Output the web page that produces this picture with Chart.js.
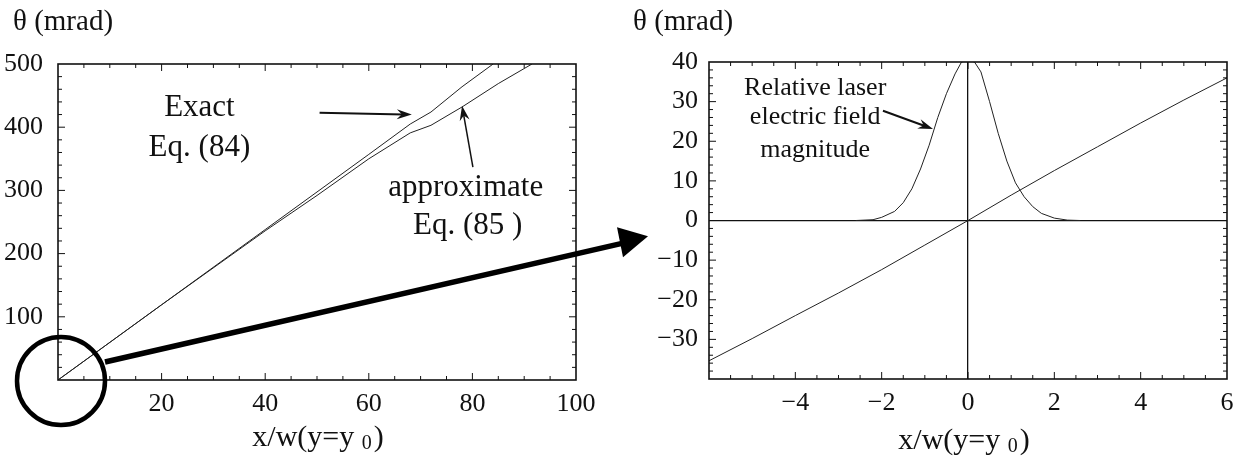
<!DOCTYPE html>
<html>
<head>
<meta charset="utf-8">
<script src="https://cdn.jsdelivr.net/npm/chart.js@4.4.1/dist/chart.umd.min.js"></script>
<style>
  html, body { margin: 0; padding: 0; background: #fff; }
  #wrap { position: relative; width: 1245px; height: 462px; }
  .box { position: absolute; top: 0; height: 462px; }
  #leftBox { left: 0; width: 620px; }
  #rightBox { left: 620px; width: 625px; }
  #overlay { position: absolute; left: 0; top: 0; pointer-events: none; }
</style>
</head>
<body>
<div id="wrap">
  <div class="box" id="leftBox"><canvas id="leftChart"></canvas></div>
  <div class="box" id="rightBox"><canvas id="rightChart"></canvas></div>
  <canvas id="overlay" width="1245" height="462"></canvas>
</div>
<script>
"use strict";

// deflection angle (mrad) against x/w, exact and approximate solution
const exactX = [0, 20, 40, 60, 68, 72, 78, 84];
const exactY = [0, 119, 238, 357, 405, 424, 464, 500];
const approxX = [0, 20, 40, 50, 60, 68, 72, 78, 85, 91.5];
const approxY = [0, 119, 236, 292, 350, 391, 403, 432, 469, 500];

// close-up around the origin
const thetaX = [-6, -5, -4, -3, -2, -1, 0, 1, 2, 3, 4, 5, 6];
const thetaY = [-35.4, -29.8, -24, -18.3, -12.4, -6.2, 0, 6.4, 12.6, 18.6, 24.6, 30.4, 36];
const fieldX = [-2.6, -2.2, -2.0, -1.7, -1.5, -1.3, -1.1, -0.9, -0.7, -0.5, -0.3, -0.15, 0,
                0.15, 0.3, 0.5, 0.7, 0.9, 1.1, 1.3, 1.5, 1.7, 2.0, 2.3, 2.6];
const fieldY = [0, 0.2, 0.8, 2.3, 4.5, 8, 13, 19, 26, 32, 37, 40, 40.5,
                40, 37.5, 30, 22, 15, 9.5, 6, 3.5, 1.8, 0.6, 0.1, 0];

// axis ranges: [min, max, label step, minor step]
const leftXAxis = [0, 100, 20, 5];
const leftYAxis = [0, 500, 100, 20];
const rightXAxis = [-6, 6, 2, 0.5];
const rightYAxis = [-40, 40, 10, 2];

const serif = "'Liberation Serif', 'Times New Roman', serif";
const ink = "#111";

function pts(xs, ys) {
    return xs.map((x, i) => ({ x: x, y: ys[i] }));
}

function fmt(v) {
    return v < 0 ? "\u2212" + Math.abs(v) : String(v);
}

function line(data) {
    return { data: data, showLine: true, borderColor: "#222", borderWidth: 1,
             pointRadius: 0, tension: 0, fill: false };
}

// frame round the plot with little inward ticks on every side
const frameTicks = {
    id: "frameTicks",
    afterDraw(chart, args, opts) {
        const ctx = chart.ctx, a = chart.chartArea;
        const xs = chart.scales.x, ys = chart.scales.y;
        ctx.save();
        ctx.strokeStyle = ink;
        ctx.lineWidth = 1;
        function marks(scale, range, horiz) {
            const n = Math.round((range[1] - range[0]) / range[3]);
            for (let i = 1; i < n; i++) {
                const v = range[0] + i * range[3];
                const major = Math.abs(v / range[2] - Math.round(v / range[2])) < 1e-6;
                const len = major ? 7 : 4;
                const p = scale.getPixelForValue(v);
                ctx.beginPath();
                if (horiz) {
                    ctx.moveTo(p, a.bottom); ctx.lineTo(p, a.bottom - len);
                    ctx.moveTo(p, a.top); ctx.lineTo(p, a.top + len);
                } else {
                    ctx.moveTo(a.left, p); ctx.lineTo(a.left + len, p);
                    ctx.moveTo(a.right, p); ctx.lineTo(a.right - len, p);
                }
                ctx.stroke();
            }
        }
        marks(xs, opts.xr, true);
        marks(ys, opts.yr, false);
        ctx.lineWidth = 1.6;
        ctx.strokeRect(a.left, a.top, a.right - a.left, a.bottom - a.top);
        ctx.restore();
    }
};

// titles, labels and the small pointer arrows
const notes = {
    id: "notes",
    afterDraw(chart, args, opts) {
        const ctx = chart.ctx, a = chart.chartArea;
        const xs = chart.scales.x, ys = chart.scales.y;
        ctx.save();
        ctx.fillStyle = ink;
        ctx.strokeStyle = ink;
        ctx.textBaseline = "middle";

        ctx.font = "29px " + serif;
        ctx.textAlign = "left";
        ctx.fillText("\u03B8 (mrad)", 13, 22);

        // x axis title with the subscript zero
        const main = "x/w(y=y ", sub = "0", tail = ")";
        ctx.font = "30px " + serif;
        const w1 = ctx.measureText(main).width, w3 = ctx.measureText(tail).width;
        ctx.font = "20px " + serif;
        const w2 = ctx.measureText(sub).width;
        let x0 = (a.left + a.right) / 2 - (w1 + w2 + w3) / 2 + opts.titleShift;
        const ty = opts.titleY;
        ctx.font = "30px " + serif;
        ctx.fillText(main, x0, ty);
        ctx.font = "20px " + serif;
        ctx.fillText(sub, x0 + w1, ty + 6);
        ctx.font = "30px " + serif;
        ctx.fillText(tail, x0 + w1 + w2 + 2, ty);

        ctx.textAlign = "center";
        ctx.font = opts.noteSize + "px " + serif;
        opts.texts.forEach(t => {
            ctx.fillText(t.text, xs.getPixelForValue(t.x), ys.getPixelForValue(t.y));
        });

        opts.arrows.forEach(ar => {
            const x1 = xs.getPixelForValue(ar.from[0]), y1 = ys.getPixelForValue(ar.from[1]);
            const x2 = xs.getPixelForValue(ar.to[0]), y2 = ys.getPixelForValue(ar.to[1]);
            const ang = Math.atan2(y2 - y1, x2 - x1);
            ctx.lineWidth = ar.width;
            ctx.beginPath();
            ctx.moveTo(x1, y1);
            ctx.lineTo(x2 - 8 * Math.cos(ang), y2 - 8 * Math.sin(ang));
            ctx.stroke();
            ctx.beginPath();
            ctx.moveTo(x2, y2);
            ctx.lineTo(x2 - 15 * Math.cos(ang) + 5 * Math.sin(ang), y2 - 15 * Math.sin(ang) - 5 * Math.cos(ang));
            ctx.lineTo(x2 - 10 * Math.cos(ang), y2 - 10 * Math.sin(ang));
            ctx.lineTo(x2 - 15 * Math.cos(ang) - 5 * Math.sin(ang), y2 - 15 * Math.sin(ang) + 5 * Math.cos(ang));
            ctx.closePath();
            ctx.fill();
        });
        ctx.restore();
    }
};

function axis(range, hideFirst, size, zeroLines) {
    return {
        type: "linear",
        min: range[0],
        max: range[1],
        afterFit: size,
        border: { display: false },
        grid: {
            drawTicks: false,
            drawOnChartArea: zeroLines,
            color: c => (zeroLines && c.tick && c.tick.value === 0) ? ink : "rgba(0,0,0,0)",
            lineWidth: zeroLines ? 1.3 : 0
        },
        ticks: {
            stepSize: range[2],
            color: ink,
            font: { family: serif, size: 26 },
            callback: (v, i) => (hideFirst && i === 0) ? "" : fmt(v)
        }
    };
}

function baseOptions() {
    return {
        responsive: true,
        maintainAspectRatio: false,
        animation: false,
        events: [],
        plugins: { legend: { display: false }, tooltip: { enabled: false } }
    };
}

const leftOpts = baseOptions();
leftOpts.layout = { padding: { left: 0, right: 44, top: 64, bottom: 0 } };
leftOpts.scales = {
    x: axis(leftXAxis, true, s => { s.height = 82; }, false),
    y: axis(leftYAxis, true, s => { s.width = 58; }, false)
};
leftOpts.scales.x.ticks.padding = 9;
leftOpts.scales.y.ticks.padding = 15;
leftOpts.plugins.frameTicks = { xr: leftXAxis, yr: leftYAxis };
leftOpts.plugins.notes = {
    titleY: 438,
    titleShift: 0,
    noteSize: 31,
    texts: [
        { text: "Exact", x: 27.3, y: 430 },
        { text: "Eq. (84)", x: 27.3, y: 368 },
        { text: "approximate", x: 78.7, y: 304 },
        { text: "Eq. (85 )", x: 79.1, y: 244 }
    ],
    arrows: [
        { from: [50.5, 423], to: [68.3, 420], width: 2 },
        { from: [80.1, 337], to: [78, 434], width: 1.5 }
    ]
};

const leftChart = new Chart(document.getElementById("leftChart"), {
    type: "scatter",
    data: { datasets: [line(pts(exactX, exactY)), line(pts(approxX, approxY))] },
    options: leftOpts,
    plugins: [frameTicks, notes]
});

const rightOpts = baseOptions();
rightOpts.layout = { padding: { left: 0, right: 18, top: 62, bottom: 0 } };
rightOpts.scales = {
    x: axis(rightXAxis, true, s => { s.height = 83; }, true),
    y: axis(rightYAxis, true, s => { s.width = 89; }, true)
};
rightOpts.scales.x.ticks.padding = 9;
rightOpts.scales.y.ticks.padding = 11;
rightOpts.plugins.frameTicks = { xr: rightXAxis, yr: rightYAxis };
rightOpts.plugins.notes = {
    titleY: 441,
    titleShift: -5,
    noteSize: 26,
    texts: [
        { text: "Relative laser", x: -3.54, y: 33.4 },
        { text: "electric field", x: -3.54, y: 26.1 },
        { text: "magnitude", x: -3.54, y: 17.8 }
    ],
    arrows: [
        { from: [-1.97, 27.7], to: [-0.81, 23.1], width: 2 }
    ]
};

const rightChart = new Chart(document.getElementById("rightChart"), {
    type: "scatter",
    data: { datasets: [line(pts(thetaX, thetaY)), line(pts(fieldX, fieldY))] },
    options: rightOpts,
    plugins: [frameTicks, notes]
});

// circle round the origin of the wide view, with the fat arrow to the close-up
function drawZoomArrow() {
    const ctx = document.getElementById("overlay").getContext("2d");
    const ox = leftChart.scales.x.getPixelForValue(0) + 3;
    const oy = leftChart.scales.y.getPixelForValue(0) + 1;
    const tipX = 620 + rightChart.chartArea.left - 61;
    const tipY = rightChart.scales.y.getPixelForValue(-4);
    ctx.strokeStyle = "#000";
    ctx.fillStyle = "#000";
    ctx.lineWidth = 4.5;
    ctx.beginPath();
    ctx.arc(ox, oy, 44, 0, Math.PI * 2);
    ctx.stroke();

    ctx.lineWidth = 5.5;
    ctx.beginPath();
    ctx.moveTo(ox + 44, oy - 19);
    ctx.lineTo(tipX - 26, tipY + 7);
    ctx.stroke();

    ctx.beginPath();
    ctx.moveTo(tipX, tipY);
    ctx.lineTo(tipX - 31, tipY - 9);
    ctx.lineTo(tipX - 25, tipY + 21);
    ctx.closePath();
    ctx.fill();
}
drawZoomArrow();
</script>
</body>
</html>
